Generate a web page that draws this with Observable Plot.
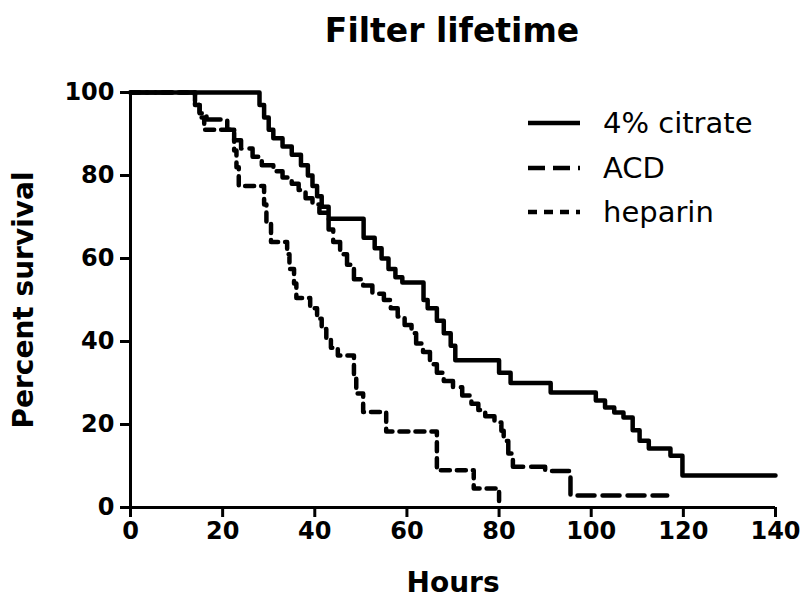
<!DOCTYPE html>
<html>
<head>
<meta charset="utf-8">
<script src="https://cdn.jsdelivr.net/npm/d3@7"></script>
<script src="https://cdn.jsdelivr.net/npm/@observablehq/plot@0.6"></script>
<style>
  body { margin: 0; background: #fff; font-family: "DejaVu Sans", sans-serif; }
  #wrap { position: relative; width: 804px; height: 598px; overflow: hidden; }
  #title { height: 60px; margin-left: 100px; width: 704px; text-align: center;
           font-weight: bold; font-size: 33px; line-height: 62px; color: #000; }
  #legend { position: absolute; left: 528px; top: 101px; }
  .row { display: flex; align-items: center; height: 44.5px; }
  .row svg { margin-right: 23px; }
  .row span { font-size: 29px; color: #000; }
</style>
</head>
<body>
<div id="wrap">
  <div id="title">Filter lifetime</div>
  <div id="chart"></div>
  <div id="legend"></div>
</div>
<script>
// Kaplan–Meier steps: each time is when survival drops to the paired value
const citrateHours = [0, 28, 29, 30, 31, 33, 35, 37, 38.5, 39.5, 40.5, 41.5, 43, 50.6, 53, 54.5, 56, 57.5, 59, 63.6, 64.5, 66.5, 68, 69.5, 70.5, 80, 82.5, 91.2, 101, 103, 105, 107, 109, 110.5, 112.5, 117.2, 119.8, 140];
const citrateSurv  = [100, 97, 94, 91, 89, 87, 85, 82.5, 80, 77.5, 75, 72.5, 69.6, 65, 62.5, 60, 57.5, 55.5, 54.2, 50, 48, 45, 42, 39, 35.5, 32.5, 30, 27.7, 25.8, 24.1, 22.9, 21.7, 18.6, 16.1, 14.2, 12.5, 7.7, 7.7];

const acdHours = [0, 14, 15, 16.5, 21, 22.5, 24, 26.5, 28.5, 31, 33, 35, 36.5, 38, 39.5, 41, 43, 44, 45.5, 47, 48.5, 50.5, 52.5, 55, 56.5, 58, 59.5, 61, 62, 63.5, 65, 66.5, 68, 70, 72, 74, 75.5, 77, 79, 80.5, 81, 82, 83, 90, 95.5, 116.5];
const acdSurv  = [100, 97, 95, 93.5, 91, 88.5, 86.5, 84.5, 82.5, 81, 79.5, 78, 76.5, 74.5, 73, 71, 67, 64, 61, 58.5, 55, 53.5, 51.5, 50, 48, 46, 44, 42, 39.5, 37.5, 34.5, 32.5, 30.5, 29, 27, 25, 23.5, 22, 20.5, 18.5, 16, 13, 9.8, 8.8, 2.9, 2.9];

const heparinHours = [0, 14, 15, 16, 22.5, 23, 23.5, 29, 29.5, 30.5, 34, 34.5, 35.5, 36, 39, 40.5, 41.5, 42.5, 43.5, 45, 48.5, 49, 50.5, 55.5, 66.5, 74.5, 80];
const heparinSurv  = [100, 97, 94, 91, 86, 82, 77.5, 73, 68.5, 64, 61, 57.5, 54, 50.5, 48, 45.5, 43, 40.5, 38.5, 36.6, 32, 27.5, 23, 18.3, 9, 4.6, 0];

const seriesNames = ["4% citrate", "ACD", "heparin"];
const seriesDash  = [null, "17,8", "9,7"];
const xTicks = [0, 20, 40, 60, 80, 100, 120, 140];
const yTicks = [0, 20, 40, 60, 80, 100];

const toRows = (hours, surv) => hours.map((h, i) => ({hours: h, survival: surv[i]}));
const series = [
  toRows(citrateHours, citrateSurv),
  toRows(acdHours, acdSurv),
  toRows(heparinHours, heparinSurv)
];

const chart = Plot.plot({
  width: 804,
  height: 538,
  marginTop: 32,
  marginLeft: 130,
  marginRight: 29,
  marginBottom: 91,
  style: { fontFamily: "DejaVu Sans, sans-serif", color: "#000", background: "#fff" },
  x: { domain: [0, 140] },
  y: { domain: [0, 100] },
  marks: [
    ...series.map((rows, i) => Plot.line(rows, {
      x: "hours", y: "survival", curve: "step-after",
      stroke: "#000", strokeWidth: 4.5,
      strokeDasharray: seriesDash[i] ?? undefined
    })),
    Plot.ruleX([0], { stroke: "#000", strokeWidth: 3 }),
    Plot.ruleY([0], { stroke: "#000", strokeWidth: 3 }),
    Plot.axisX({
      ticks: xTicks, tickSize: 10, tickPadding: 4, strokeWidth: 3,
      fontSize: 24, fontWeight: "bold",
      label: "Hours", labelAnchor: "center", labelArrow: "none", labelOffset: 84
    }),
    Plot.axisY({
      ticks: yTicks, tickSize: 10, tickPadding: 6, strokeWidth: 3,
      fontSize: 24, fontWeight: "bold",
      label: "Percent survival", labelAnchor: "center", labelArrow: "none", labelOffset: 117
    })
  ]
});
chart.querySelectorAll("g[aria-label='x-axis label'] text, g[aria-label='y-axis label'] text")
  .forEach(t => { t.setAttribute("font-size", 28); t.setAttribute("font-weight", "bold"); });
document.getElementById("chart").appendChild(chart);

// Legend: line sample plus series name
const legend = document.getElementById("legend");
seriesNames.forEach((name, i) => {
  const row = document.createElement("div");
  row.className = "row";
  const dash = seriesDash[i] ? ` stroke-dasharray="${seriesDash[i].replace(",", " ")}"` : "";
  row.innerHTML = `<svg width="52" height="10"><line x1="0" y1="5" x2="52" y2="5" stroke="#000" stroke-width="4.5"${dash}/></svg><span>${name}</span>`;
  legend.appendChild(row);
});
</script>
</body>
</html>
